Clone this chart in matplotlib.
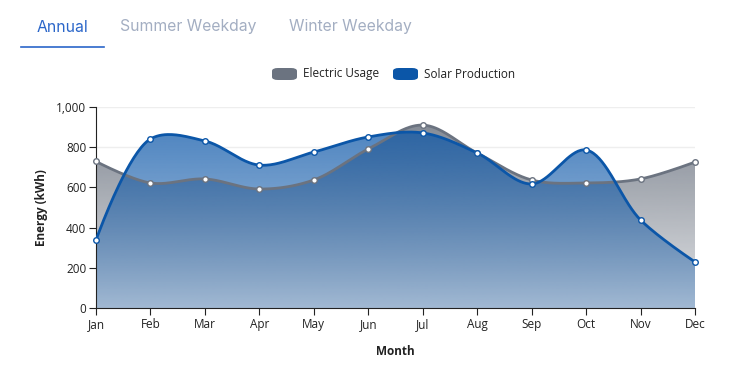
import numpy as np
import matplotlib
matplotlib.use('Agg')
import matplotlib.pyplot as plt
from matplotlib.path import Path
from matplotlib.patches import PathPatch, FancyBboxPatch
from matplotlib.colors import to_rgb

months = ['Jan', 'Feb', 'Mar', 'Apr', 'May', 'Jun', 'Jul', 'Aug', 'Sep', 'Oct', 'Nov', 'Dec']
electric = [729, 622, 642, 592, 637, 791, 910, 771, 637, 622, 642, 726]
solar = [338, 841, 831, 711, 776, 851, 871, 771, 617, 786, 438, 229]
tabs = ['Annual', 'Summer Weekday', 'Winter Weekday']

GRAY = '#6b7380'
BLUE = '#0b56a8'
plt.rcParams['font.family'] = ['Open Sans', 'DejaVu Sans']

# plot box in pixels
X0, X1, YB, YT = 96, 695, 308, 107
SX = (X1 - X0) / 11
SY = (YB - YT) / 1000


def catmull_rom(ys, alpha=0.5, n=40):
    # d3 curveCatmullRom, computed in pixel space
    P = np.column_stack([np.arange(len(ys)) * SX, np.asarray(ys, float) * SY])
    out = [P[0]]
    t = np.linspace(0, 1, n)[1:]
    N = len(P)
    for i in range(N - 1):
        p1, p2 = P[i], P[i + 1]
        c1, c2 = p1.copy(), p2.copy()
        l12 = np.hypot(*(p2 - p1))
        l12_a, l12_2a = l12 ** alpha, l12 ** (2 * alpha)
        if i > 0:
            p0 = P[i - 1]
            l01 = np.hypot(*(p1 - p0))
            l01_a, l01_2a = l01 ** alpha, l01 ** (2 * alpha)
            a = 2 * l01_2a + 3 * l01_a * l12_a + l12_2a
            m = 3 * l01_a * (l01_a + l12_a)
            c1 = (p1 * a - p0 * l12_2a + p2 * l01_2a) / m
        if i < N - 2:
            p3 = P[i + 2]
            l23 = np.hypot(*(p3 - p2))
            l23_a, l23_2a = l23 ** alpha, l23 ** (2 * alpha)
            b = 2 * l23_2a + 3 * l23_a * l12_a + l12_2a
            m = 3 * l23_a * (l23_a + l12_a)
            c2 = (p2 * b + p1 * l23_2a - p3 * l12_2a) / m
        pts = ((1 - t) ** 3)[:, None] * p1 + (3 * (1 - t) ** 2 * t)[:, None] * c1 \
            + (3 * (1 - t) * t ** 2)[:, None] * c2 + (t ** 3)[:, None] * p2
        out.extend(pts)
    out = np.array(out)
    return out[:, 0] / SX, out[:, 1] / SY


def gradient_area(ax, xs, ys, color, a_top, a_bot, zorder=1):
    verts = np.column_stack([np.r_[xs[0], xs, xs[-1]], np.r_[0, ys, 0]])
    # white base so the grid does not show through the fill
    ax.add_patch(PathPatch(Path(verts), facecolor='white', edgecolor='none', zorder=0.8))
    patch = PathPatch(Path(verts), facecolor='none', edgecolor='none')
    ax.add_patch(patch)
    img = np.zeros((256, 1, 4))
    img[:, 0, :3] = to_rgb(color)
    img[:, 0, 3] = np.linspace(a_bot, a_top, 256)
    im = ax.imshow(img, origin='lower', aspect='auto', interpolation='bilinear',
                   extent=[xs[0], xs[-1], 0, ys.max()], zorder=zorder)
    im.set_clip_path(patch)


fig = plt.figure(figsize=(7.4, 3.78), dpi=100)
ax = fig.add_axes([X0 / 740, (378 - YB) / 378, (X1 - X0) / 740, (YB - YT) / 378])

ex, ey = catmull_rom(electric)
sx, sy = catmull_rom(solar)
gradient_area(ax, ex, ey, GRAY, 0.82, 0.2, zorder=1)
gradient_area(ax, sx, sy, BLUE, 0.72, 0.3, zorder=2)

ax.plot(ex, ey, color=GRAY, lw=2, zorder=3)
ax.plot(sx, sy, color=BLUE, lw=2, zorder=3)
x = np.arange(len(months))
ax.plot(x, electric, 'o', ms=4, mfc='white', mec=GRAY, mew=1, zorder=4, clip_on=False)
ax.plot(x, solar, 'o', ms=4, mfc='white', mec=BLUE, mew=1, zorder=4, clip_on=False)

ax.set_xlim(0, 11)
ax.set_ylim(0, 1000)
ax.set_xticks(x)
ax.set_xticklabels(months)
ax.set_yticks(range(0, 1001, 200))
ax.set_yticklabels([f'{v:,}' for v in range(0, 1001, 200)])
ax.grid(axis='y', color='#eeeeee', lw=1, zorder=0)
ax.set_axisbelow(True)
for s in ['top', 'right']:
    ax.spines[s].set_visible(False)
for s in ['left', 'bottom']:
    ax.spines[s].set_color('#222222')
ax.tick_params(colors='#222222', labelsize=8.5, length=5, direction='out', pad=2)
ax.set_xlabel('Month', fontsize=8.5, fontweight='bold', color='#222222', labelpad=10)
ax.set_ylabel('Energy (kWh)', fontsize=8.5, fontweight='bold', color='#222222', labelpad=6)

# tabs
tab_x = [62, 188, 350]
for i, (t, tx) in enumerate(zip(tabs, tab_x)):
    fig.text(tx / 740, 1 - 27 / 378, t, ha='center', va='center', fontsize=11.3,
             color='#2b66c9' if i == 0 else '#a3aec2', family=['Inter', 'DejaVu Sans'])
fig.add_artist(plt.Line2D([21 / 740, 104 / 740], [1 - 47 / 378] * 2, color='#2b66c9', lw=1.2))

# legend
for lx, col, lab in [(272, GRAY, 'Electric Usage'), (393, BLUE, 'Solar Production')]:
    fig.add_artist(FancyBboxPatch((lx / 740, 1 - 80 / 378), 25 / 740, 12 / 378,
                                  boxstyle='round,pad=0,rounding_size=0.008',
                                  transform=fig.transFigure, facecolor=col, edgecolor='none'))
    fig.text((lx + 31) / 740, 1 - 74 / 378, lab, ha='left', va='center', fontsize=8.5,
             color='#222222')

fig.savefig('out.png', dpi=100)
